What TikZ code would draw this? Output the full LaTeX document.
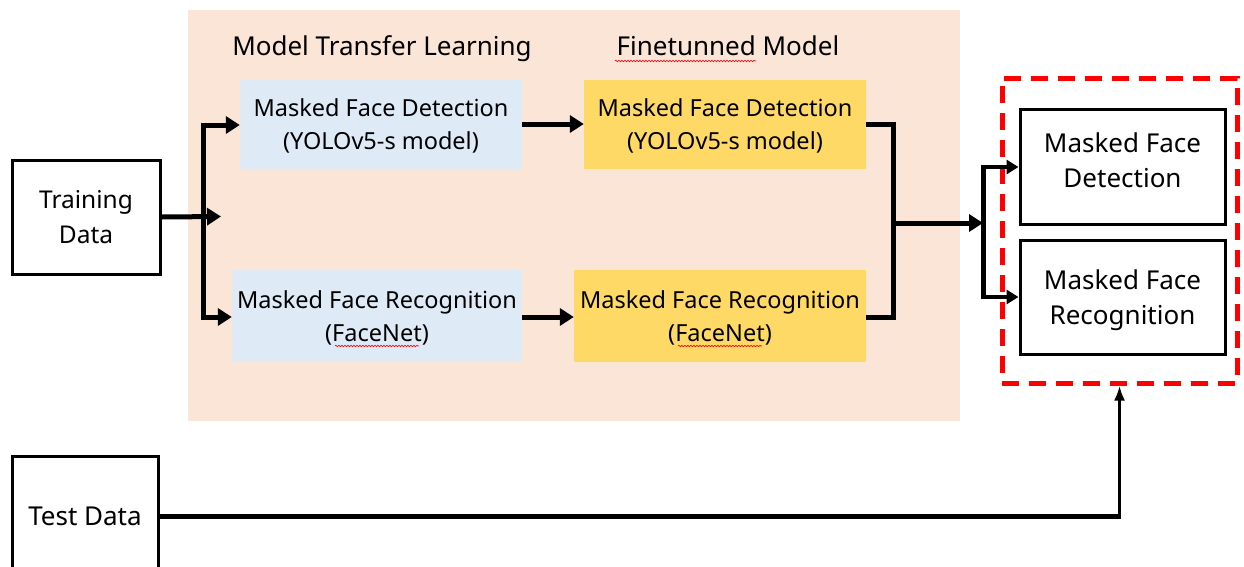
\documentclass[tikz,border=0pt]{standalone}
\usepackage{fontspec}
\setmainfont{Noto Sans}
\usetikzlibrary{arrows.meta,decorations.pathmorphing}
\definecolor{peach}{HTML}{FBE5D6}
\definecolor{paleblue}{HTML}{DEEBF7}
\definecolor{gold}{HTML}{FFD966}
\begin{document}
\begin{tikzpicture}[x=1pt,y=-1pt,
  txt/.style={align=center,inner sep=0pt,font=\fontsize{23.5}{33}\selectfont},
  stage/.style={txt,draw=none,text depth=-5pt},
  plainbox/.style={txt,draw=black,line width=3pt,fill=white,font=\fontsize{26}{35}\selectfont},
  flow/.style={line width=5pt,-{Triangle[length=14pt,width=17pt]}},
  link/.style={line width=5pt},
  smallflow/.style={line width=4pt,-{Triangle[length=12pt,width=14pt]}},
  spell/.style={red,line width=0.6pt,decorate,decoration={snake,amplitude=0.8pt,segment length=3pt}},
  title/.style={inner sep=0pt,anchor=base,font=\fontsize{26}{30}\selectfont}
]
\useasboundingbox (0,0) rectangle (1244,566);

% shaded training area
\fill[peach] (188,10) rectangle (960,421);
\node[title] (ttl) at (382,55) {Model Transfer Learning};
\node[title] (ftl) at (728,55) {Finetunned Model};
\draw[spell] (615,61) -- (756,61);

% input boxes
\node[plainbox,font=\fontsize{24.5}{35}\selectfont,minimum width=148pt,minimum height=114pt] (train) at (86,217) {Training\\Data};
\node[plainbox,minimum width=146pt,minimum height=120pt] (test) at (85,516) {Test Data};

% pretrained models
\node[stage,fill=paleblue,minimum width=282pt,minimum height=89pt] (b1) at (381,124.5) {Masked Face Detection\\(YOLOv5-s model)};
\node[stage,fill=paleblue,minimum width=290pt,minimum height=92pt] (b2) at (377,316) {Masked Face Recognition\\(FaceNet)};
% finetuned models
\node[stage,fill=gold,minimum width=282pt,minimum height=89pt] (y1) at (725,124.5) {Masked Face Detection\\(YOLOv5-s model)};
\node[stage,fill=gold,minimum width=292pt,minimum height=92pt] (y2) at (720,316) {Masked Face Recognition\\(FaceNet)};
\draw[spell] (335,346) -- (419,346);
\draw[spell] (678,346) -- (762,346);

% output group
\node[draw=red,line width=5pt,dash pattern=on 17pt off 10pt,minimum width=235pt,minimum height=305pt,inner sep=0pt] (out) at (1119.5,230.5) {};
\node[plainbox,text depth=12pt,minimum width=205pt,minimum height=115pt] (o1) at (1122.5,166.5) {Masked Face\\Detection};
\node[plainbox,text depth=0pt,minimum width=205pt,minimum height=114pt] (o2) at (1122.5,297) {Masked Face\\Recognition};

% split after training data
\coordinate (spt) at (221,216.5);
\draw[flow] (train.east) -- (spt);
\draw[flow] (203,125) -- (b1.west |- 0,125);
\draw[link] (203,122.5) -- (203,319.5);
\draw[flow] (203,317) -- (b2.west |- 0,317);

% pretrained -> finetuned
\draw[flow] (b1.east |- 0,124) -- (y1.west |- 0,124);
\draw[flow] (b2.east |- 0,317) -- (y2.west |- 0,317);

% merge of finetuned outputs
\coordinate (mg) at (893,223);
\coordinate (jn) at (983,223);
\draw[link] (y1.east |- 0,124) -- (893,124) -- (893,317) -- (y2.east |- 0,317);
\draw[flow] (mg) -- (jn);
\draw[link] (983,165) -- (983,299);
\draw[smallflow] (983,167) -- (o1.west |- 0,167);
\draw[smallflow] (983,297) -- (o2.west |- 0,297);

% test data path
\coordinate (bend) at (test.east -| out.south);
\draw[line width=5pt] (test.east) -- ([xshift=1.5pt]bend);
\draw[line width=3pt,-{Latex[length=15pt,width=11pt]}] ([yshift=2.5pt]bend) -- (out.south);
\end{tikzpicture}
\end{document}
